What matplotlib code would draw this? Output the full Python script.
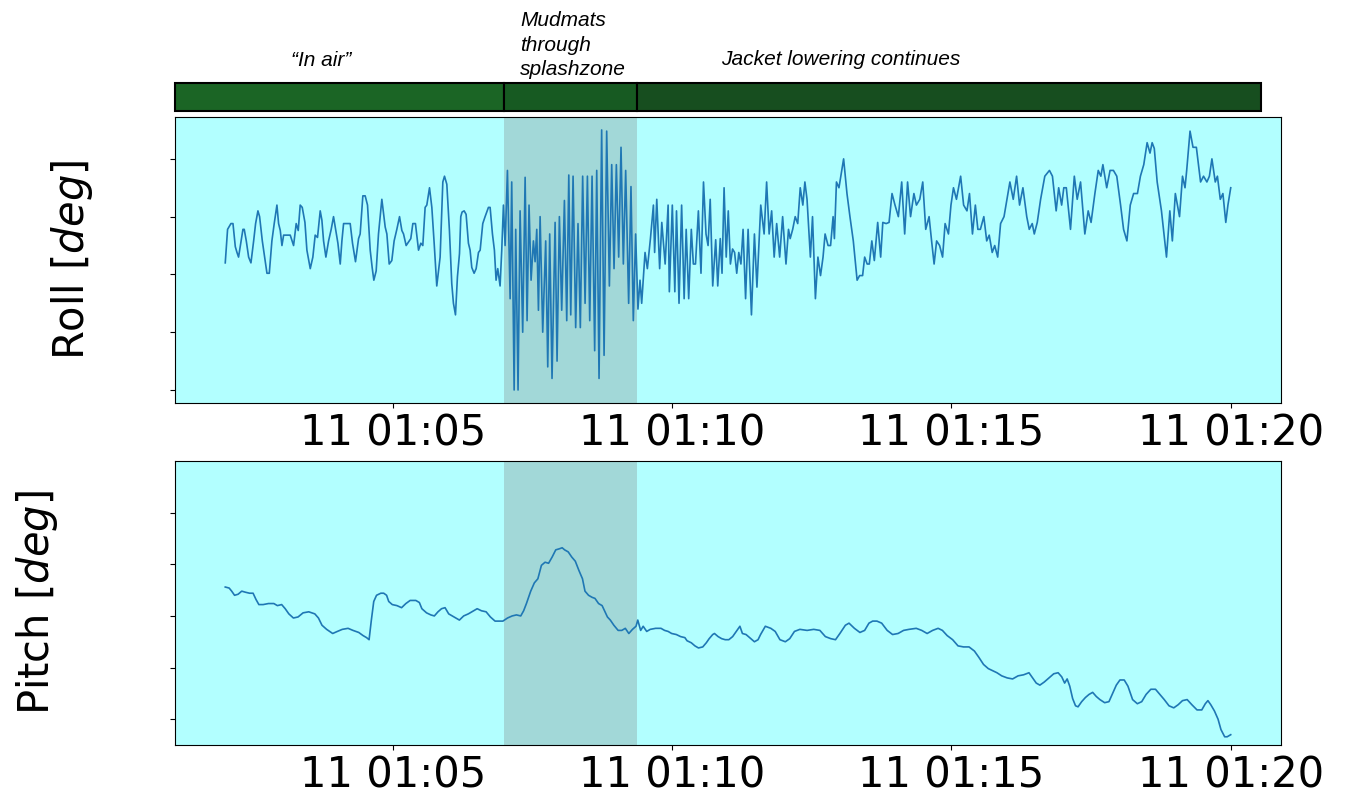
import datetime as dt
import matplotlib
matplotlib.use('Agg')
import matplotlib.pyplot as plt
import matplotlib.dates as mdates

## time base: seconds after 01:02:00 on the 11th
t0 = dt.datetime(2019, 1, 11, 1, 2, 0)

## roll [deg]
roll_t = [0.0, 2.5, 6.1, 8.3, 10.8, 12.6, 14.3, 16.1, 19.0, 20.4,
          22.6, 25.1, 27.6, 30.5, 32.6, 35.1, 36.9, 39.8, 42.3, 44.8,
          47.3, 50.1, 52.6, 55.5, 57.3, 59.1, 60.9, 62.7, 66.2, 69.8,
          73.4, 76.2, 78.4, 80.5, 82.7, 85.6, 87.7, 91.3, 94.1, 96.6,
          99.1, 102.0, 103.8, 105.6, 108.1, 111.0, 113.8, 116.3, 118.8, 121.0,
          123.5, 125.3, 127.1, 130.6, 134.2, 136.7, 139.9, 143.2, 144.9, 147.8,
          150.3, 152.8, 155.7, 157.8, 159.6, 162.1, 164.6, 168.2, 171.8, 173.6,
          176.1, 178.9, 181.4, 184.3, 187.2, 189.7, 191.5, 194.3, 196.8, 199.3,
          201.5, 204.3, 207.6, 210.1, 212.2, 214.7, 216.5, 219.4, 221.9, 224.4,
          227.2, 230.8, 233.7, 235.5, 238.0, 240.8, 243.3, 245.1, 247.3, 249.4,
          251.6, 253.0, 254.4, 256.6, 258.7, 261.2, 263.0, 264.8, 267.3, 269.5,
          272.0, 273.8, 276.6, 279.1, 280.9, 282.7, 284.5, 287.0, 289.1, 290.9,
          292.7, 295.2, 297.0, 298.8, 300.6, 303.1, 306.0, 307.7, 310.3, 312.0,
          314.5, 316.7, 319.5, 322.1, 324.2, 326.3, 328.5, 331.0, 332.8, 334.6,
          336.4, 338.2, 341.0, 344.2, 346.4, 348.5, 351.0, 354.3, 356.4, 358.9,
          361.4, 364.3, 366.8, 369.0, 371.1, 373.6, 376.4, 378.9, 381.4, 383.9,
          386.5, 389.0, 391.5, 394.0, 396.8, 399.0, 401.5, 404.3, 406.9, 409.7,
          412.6, 415.1, 417.6, 420.1, 422.6, 425.1, 427.6, 430.1, 433.3, 435.8,
          438.3, 440.8, 443.3, 445.5, 447.3, 450.9, 453.4, 456.7,
          459.9, 461.2, 463.5, 466.6, 468.9, 472.5, 475.7, 477.0, 480.2, 482.9,
          484.7, 487.4, 490.2, 492.9, 495.1, 497.8, 500.6, 502.8, 505.1, 508.2,
          511.0, 513.7, 516.4, 518.6, 520.9, 523.6, 526.8, 529.0, 531.7, 533.6,
          535.8, 538.1, 540.3, 542.6, 544.9, 547.1, 549.4, 551.6, 553.9, 556.2,
          558.9, 561.6, 565.2, 568.4, 571.1, 575.2, 578.8, 581.5, 584.2, 586.9,
          589.6, 592.3, 595.5, 598.7, 602.3, 605.0, 606.8, 609.5, 612.2, 614.9,
          617.6, 620.4, 622.6, 624.9, 628.5, 630.8, 633.9, 636.6, 639.4, 642.1,
          644.3, 647.5, 650.2, 652.9, 654.3, 656.5, 659.2, 664.2, 667.8, 671.0,
          674.6, 678.7, 681.4, 684.6, 686.8, 689.5, 691.8, 694.5, 697.2, 700.8,
          704.0, 706.3, 709.9, 713.0, 716.2, 719.4, 723.0, 726.6, 729.8, 732.9,
          736.1, 739.7, 742.4, 746.0, 749.2, 752.4, 756.0, 758.7, 761.4, 764.1,
          767.3, 770.5, 773.2, 776.8, 779.5, 782.2, 785.4, 789.9, 793.1, 796.7,
          799.4, 802.6, 805.7, 808.4, 811.1, 814.8, 817.9, 820.6, 823.8, 826.5,
          829.7, 832.8, 836.5, 839.6, 842.8, 846.4, 850.0, 853.2, 856.8, 860.9,
          863.6, 866.8, 869.0, 872.2, 875.8, 880.3, 885.3, 888.5, 892.5, 895.2,
          898.4, 900.7, 903.4, 907.9, 912.0, 915.1, 918.7, 923.3, 926.9, 930.0,
          934.1, 937.7, 940.5, 942.7, 946.8, 950.4, 954.0, 957.6, 961.7, 964.9,
          968.5, 972.1, 975.7, 979.8, 983.0, 986.6, 990.2, 993.3, 995.6, 997.9,
          1001.0, 1005.6, 1011.0, 1014.6, 1017.3, 1020.5, 1025.0, 1028.2, 1030.9, 1032.7,
          1036.3, 1039.5, 1043.1, 1047.6, 1050.8, 1054.4, 1057.1, 1059.8, 1063.4, 1065.7,
          1068.8, 1071.6, 1074.7, 1077.0, 1080.0]

roll_deg = [0.10, 0.39, 0.44, 0.44, 0.24, 0.19, 0.15, 0.24, 0.39, 0.39,
            0.29, 0.15, 0.10, 0.29, 0.44, 0.55, 0.50, 0.29, 0.15, 0.01,
            0.01, 0.29, 0.44, 0.60, 0.44, 0.38, 0.25, 0.34, 0.34, 0.34,
            0.25, 0.44, 0.38, 0.60, 0.58, 0.45, 0.21, 0.05, 0.15, 0.34,
            0.32, 0.55, 0.47, 0.29, 0.15, 0.29, 0.39, 0.50, 0.38, 0.27,
            0.09, 0.29, 0.44, 0.44, 0.44, 0.27, 0.11, 0.31, 0.35, 0.68,
            0.68, 0.60, 0.21, 0.06, -0.05, 0.03, 0.35, 0.65, 0.41, 0.35,
            0.09, 0.12, 0.29, 0.39, 0.50, 0.38, 0.35, 0.25, 0.28, 0.31,
            0.44, 0.44, 0.21, 0.27, 0.25, 0.58, 0.60, 0.75, 0.58, 0.27,
            -0.10, 0.15, 0.80, 0.85, 0.78, 0.38, -0.08, -0.25, -0.35, -0.02,
            0.18, 0.50, 0.54, 0.55, 0.52, 0.27, 0.21, 0.06, 0.01, 0.05,
            0.19, 0.21, 0.44, 0.50, 0.54, 0.58, 0.58, 0.35, 0.21, -0.05,
            0.05, -0.10, 0.21, 0.60, 0.25, 0.90, -0.21, 0.80, -1.00, 0.39,
            -1.00, 0.55, -0.50, 0.84, -0.40, 0.60, -0.05, 0.29, 0.11, 0.39,
            -0.31, 0.50, -0.50, 0.29, -0.80, 0.35, -0.90, 0.45, -0.75, 0.50,
            -0.31, 0.64, -0.40, 0.86, -0.35, 0.85, -0.46, 0.44, -0.46, 0.85,
            -0.25, 0.85, -0.40, 0.85, -0.66, 0.90, -0.90, 1.25, -0.70, 1.24,
            -0.10, 0.95, 0.05, 0.95, 0.15, 1.10, 0.09, 0.90, -0.25, 0.76,
            -0.40, 0.35, -0.30, -0.05, -0.25, 0.19, 0.05, 0.31,
            0.60, 0.19, 0.65, 0.05, 0.45, 0.09, 0.60, -0.15, 0.60, -0.15,
            0.55, -0.25, 0.60, -0.21, 0.39, -0.21, 0.39, 0.09, 0.09, 0.55,
            0.01, 0.80, 0.35, 0.25, 0.65, -0.10, 0.30, -0.10, 0.31, 0.01,
            0.75, 0.15, 0.55, 0.09, 0.22, 0.19, 0.01, 0.19, 0.09, 0.39,
            -0.21, 0.39, -0.35, 0.35, -0.11, 0.60, 0.35, 0.80, 0.35, 0.55,
            0.15, 0.44, 0.15, 0.50, 0.09, 0.39, 0.31, 0.39, 0.50, 0.44,
            0.75, 0.60, 0.80, 0.65, 0.15, 0.50, -0.21, 0.15, -0.01, 0.15,
            0.35, 0.25, 0.25, 0.50, 0.31, 0.80, 0.75, 1.00, 0.70, 0.50,
            0.29, -0.05, -0.01, -0.01, 0.15, 0.09, 0.09, 0.29, 0.12, 0.45,
            0.15, 0.45, 0.44, 0.45, 0.70, 0.60, 0.50, 0.80, 0.35, 0.80,
            0.50, 0.70, 0.60, 0.65, 0.80, 0.39, 0.50, 0.29, 0.09, 0.29,
            0.25, 0.15, 0.44, 0.35, 0.60, 0.75, 0.65, 0.85, 0.60, 0.55,
            0.70, 0.35, 0.60, 0.39, 0.39, 0.50, 0.29, 0.34, 0.19, 0.25,
            0.15, 0.44, 0.50, 0.65, 0.80, 0.65, 0.85, 0.60, 0.75, 0.50,
            0.39, 0.44, 0.35, 0.45, 0.65, 0.85, 0.90, 0.85, 0.55, 0.75,
            0.60, 0.75, 0.75, 0.39, 0.85, 0.65, 0.80, 0.35, 0.55, 0.45,
            0.70, 0.90, 0.85, 0.95, 0.75, 0.90, 0.90, 0.85, 0.60, 0.39,
            0.29, 0.60, 0.70, 0.70, 0.85, 0.95, 1.14, 1.05, 1.14, 1.09,
            0.80, 0.55, 0.15, 0.55, 0.29, 0.70, 0.50, 0.85, 0.75, 0.90,
            1.24, 1.10, 1.10, 0.80, 0.85, 0.80, 0.85, 1.00, 0.80, 0.85,
            0.65, 0.70, 0.45, 0.60, 0.75]

## pitch [deg]
pitch_t = [0.0, 4.2, 6.9, 10.0, 13.8, 17.7, 21.5, 26.1, 29.9, 33.0,
           36.1, 40.7, 46.4, 52.2, 56.0, 60.6, 64.4, 68.3, 73.2, 78.2,
           83.6, 89.7, 96.2, 100.1, 103.9, 108.9, 115.4, 120.4, 125.7, 131.9,
           137.2, 143.4, 148.0, 151.8, 154.5, 156.8, 159.5, 162.5, 167.1, 170.2,
           173.3, 175.6, 179.4, 184.4, 189.4, 194.0, 198.6, 204.7, 208.5, 211.2,
           216.2, 220.8, 224.6, 228.5, 232.3, 236.1, 240.0, 245.7, 251.5, 256.1,
           261.1, 266.8, 270.6, 275.2, 280.2, 284.8, 289.8, 293.6, 298.2, 303.2,
           308.2, 312.8, 317.4, 320.5, 323.5, 328.1, 332.0, 335.8, 339.6, 343.5,
           347.3, 351.1, 355.0, 358.8, 361.9, 364.5, 368.4, 372.2, 376.0, 379.9,
           383.7, 386.4, 390.2, 394.1, 397.1, 401.0, 404.8, 407.9, 410.5, 413.6,
           417.4, 422.0, 425.9, 429.7, 433.5, 437.4, 441.2, 443.1, 446.2, 448.9,
           452.7, 456.5, 462.3, 468.0, 471.9, 475.7, 479.5, 484.5, 489.1, 493.7,
           496.0, 500.6, 504.5, 508.3, 512.9, 516.7, 519.8, 523.6, 525.5, 529.4,
           533.2, 537.0, 540.9, 545.0, 548.9, 552.8, 555.5, 559.4, 564.5, 568.4,
           572.3, 575.0, 580.1, 586.0, 590.7, 595.8, 601.6, 606.3, 611.4, 617.2,
           625.0, 632.1, 638.7, 644.6, 650.4, 655.5, 660.2, 666.1, 670.0, 675.8,
           681.7, 686.8, 691.4, 695.4, 700.0, 705.1, 711.0, 716.8, 722.7, 728.6,
           734.4, 742.2, 748.1, 753.9, 759.8, 765.7, 770.3, 775.4, 781.3, 787.1,
           793.0, 798.9, 804.7, 809.4, 814.5, 819.6, 824.3, 828.9, 834.0, 839.9,
           845.7, 851.6, 857.5, 863.3, 867.2, 871.1, 875.0, 879.7, 884.8, 889.9,
           894.6, 898.5, 901.6, 904.3, 907.1, 910.2, 913.3, 916.0, 919.9, 923.9,
           927.8, 931.7, 935.6, 939.5, 944.6, 949.2, 953.2, 957.1, 961.0, 965.6,
           969.6, 974.6, 979.7, 984.4, 989.1, 994.2, 999.2, 1003.9, 1008.6, 1013.7,
           1018.8, 1023.5, 1028.2, 1033.2, 1038.3, 1043.8, 1048.9, 1052.7, 1055.5, 1058.6,
           1062.5, 1066.4, 1069.5, 1073.5, 1076.2, 1080.0]

pitch_deg = [0.28, 0.27, 0.24, 0.20, 0.21, 0.24, 0.23, 0.22, 0.22, 0.16,
             0.11, 0.11, 0.12, 0.12, 0.10, 0.11, 0.07, 0.02, -0.02, -0.01,
             0.03, 0.04, 0.02, -0.02, -0.09, -0.13, -0.17, -0.15, -0.13, -0.12,
             -0.14, -0.16, -0.19, -0.21, -0.23, -0.05, 0.14, 0.20, 0.22, 0.22,
             0.20, 0.14, 0.11, 0.10, 0.08, 0.12, 0.15, 0.15, 0.13, 0.07,
             0.03, 0.01, 0.00, 0.04, 0.07, 0.08, 0.02, -0.01, -0.04, 0.00,
             0.02, 0.05, 0.07, 0.05, 0.04, -0.01, -0.05, -0.05, -0.05, -0.02,
             0.00, 0.01, 0.00, 0.05, 0.12, 0.24, 0.32, 0.36, 0.49, 0.52,
             0.51, 0.57, 0.64, 0.65, 0.66, 0.64, 0.62, 0.57, 0.53, 0.44,
             0.36, 0.24, 0.20, 0.18, 0.17, 0.12, 0.10, 0.04, -0.01, -0.04,
             -0.09, -0.14, -0.14, -0.12, -0.17, -0.13, -0.10, -0.04, -0.14, -0.10,
             -0.15, -0.13, -0.12, -0.12, -0.14, -0.15, -0.17, -0.18, -0.20, -0.21,
             -0.24, -0.26, -0.29, -0.31, -0.30, -0.26, -0.22, -0.18, -0.17, -0.20,
             -0.22, -0.23, -0.23, -0.20, -0.15, -0.10, -0.17, -0.18, -0.22, -0.25,
             -0.23, -0.18, -0.10, -0.12, -0.15, -0.23, -0.25, -0.22, -0.15, -0.13,
             -0.14, -0.13, -0.14, -0.20, -0.22, -0.23, -0.17, -0.09, -0.07, -0.12,
             -0.16, -0.14, -0.07, -0.05, -0.05, -0.07, -0.14, -0.18, -0.17, -0.14,
             -0.13, -0.12, -0.14, -0.17, -0.14, -0.12, -0.14, -0.19, -0.23, -0.29,
             -0.30, -0.30, -0.34, -0.40, -0.47, -0.51, -0.53, -0.55, -0.58, -0.60,
             -0.61, -0.58, -0.57, -0.55, -0.60, -0.65, -0.67, -0.64, -0.60, -0.56,
             -0.55, -0.59, -0.65, -0.61, -0.68, -0.80, -0.87, -0.88, -0.83, -0.79,
             -0.76, -0.74, -0.78, -0.81, -0.84, -0.83, -0.75, -0.67, -0.62, -0.62,
             -0.68, -0.81, -0.85, -0.83, -0.76, -0.71, -0.71, -0.76, -0.81, -0.87,
             -0.89, -0.86, -0.82, -0.81, -0.86, -0.91, -0.91, -0.85, -0.82, -0.86,
             -0.92, -1.00, -1.10, -1.17, -1.17, -1.15]

## operation phases (seconds after 01:02:00)
phase_names  = ['\u201cIn air\u201d', 'Mudmats\nthrough\nsplashzone', 'Jacket lowering continues']
phase_edges  = [-54, 299, 442, 1112]
phase_colors = ['#1b6525', '#175a22', '#174e1f']

splash_start = 299
splash_end   = 442


def to_time(secs):
    return [t0 + dt.timedelta(seconds=s) for s in secs]


fig = plt.figure(figsize=(13.47, 7.92), dpi=100)

ax1 = fig.add_axes([0.1299, 0.4912, 0.8211, 0.3611])
ax2 = fig.add_axes([0.1299, 0.0593, 0.8211, 0.3586])

for ax, t, y in [(ax1, roll_t, roll_deg), (ax2, pitch_t, pitch_deg)]:
    ax.set_facecolor((0.0, 1.0, 1.0, 0.3))
    ax.plot(to_time(t), y, color='#1f77b4', lw=1.2)
    ax.axvspan(t0 + dt.timedelta(seconds=splash_start),
               t0 + dt.timedelta(seconds=splash_end),
               color='gray', alpha=0.3, lw=0)
    ax.xaxis.set_major_locator(mdates.MinuteLocator(byminute=[5, 10, 15, 20]))
    ax.xaxis.set_major_formatter(mdates.DateFormatter('%d %H:%M'))
    ax.tick_params(axis='x', labelsize=30)
    ax.set_yticks([-1.0, -0.5, 0.0, 0.5, 1.0])
    ax.tick_params(axis='y', labelleft=False)

ax2.set_ylim(-1.25, 1.5)

ax1.set_ylabel('Roll [$deg$]', fontsize=30)
ax1.yaxis.set_label_coords(-0.072, 0.5)
ax2.set_ylabel('Pitch [$deg$]', fontsize=30)
ax2.yaxis.set_label_coords(-0.104, 0.5)

## phase bar on top
axb = fig.add_axes([0.1299, 1 - 111 / 792, 0.8211, 28 / 792])
axb.set_xlim(ax1.get_xlim())
starts = [mdates.date2num(t0 + dt.timedelta(seconds=s)) for s in phase_edges[:-1]]
ends   = [mdates.date2num(t0 + dt.timedelta(seconds=s)) for s in phase_edges[1:]]
widths = [e - s for s, e in zip(starts, ends)]
axb.barh(0, widths, left=starts, height=1, color=phase_colors,
         edgecolor='black', linewidth=1.5, clip_on=False)
axb.set_ylim(-0.5, 0.5)
axb.axis('off')

txt = dict(fontsize=15, style='italic', family='Liberation Sans')
fig.text(0.2383, 1 - 66 / 792, phase_names[0], ha='center', va='baseline', **txt)
fig.text(0.3860, 1 - 11 / 792, phase_names[1], ha='left', va='top', linespacing=1.38, **txt)
fig.text(0.6244, 1 - 65 / 792, phase_names[2], ha='center', va='baseline', **txt)

plt.savefig('out.png', dpi=100)
